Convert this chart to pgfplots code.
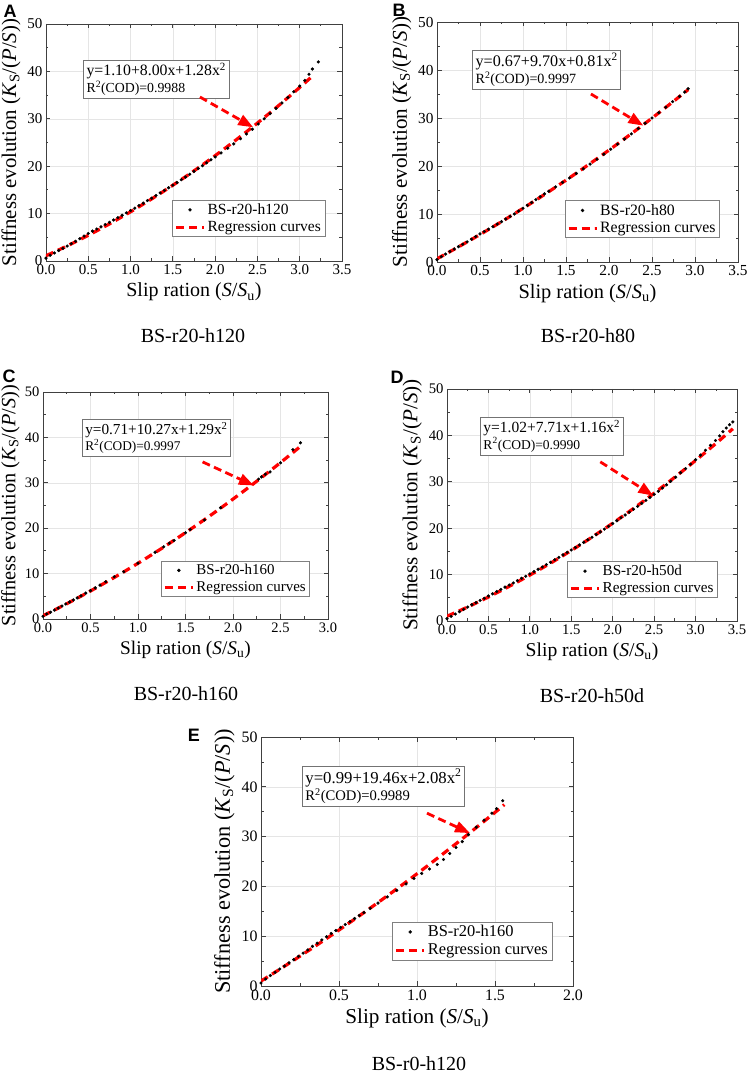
\documentclass[border=0pt]{standalone}
\usepackage{fontspec}
\setmainfont{Liberation Serif}
\newfontfamily\lettersf{Liberation Sans}
\usepackage{pgfplots}
\pgfplotsset{compat=1.18}
\usetikzlibrary{arrows.meta}

\def\psc{1.0}
\def\ylfs{21}
\newcommand{\fs}[1]{\fontsize{\fpeval{#1*\psc}}{\fpeval{1.15*#1*\psc}}\selectfont}
\pgfplotsset{
  panel/.style={
    scale only axis,
    xmin=0, ymin=0, ymax=50,
    ytick={0,10,20,30,40,50},
    minor x tick num=1, minor y tick num=1,
    tick align=inside,
    major tick length=4.5pt, minor tick length=2.5pt,
    axis line style={black!75, line width=0.9pt},
    every tick/.style={black!75, line width=0.8pt},
    grid=major, major grid style={black!10, line width=0.5pt},
    /pgf/number format/assume math mode=true,
    xticklabel style={/pgf/number format/.cd, fixed, fixed zerofill, precision=1},
    yticklabel style={/pgf/number format/.cd, fixed, precision=0},
    tick label style={font=\fs{15}},
    xlabel style={font=\fs{20}, yshift=-1.5pt},
    ylabel style={font=\fontsize{\ylfs}{\ylfs}\selectfont},
    xlabel={Slip ration (\textit{S}/\textit{S}\textsubscript{u})},
    ylabel={Stiffness evolution (\textit{K}\textsubscript{S}/(\textit{P}/\textit{S}))},
    legend cell align=left,
    legend style={draw=black!50, line width=0.6pt, fill=white,
      font=\fs{15.5}, inner xsep=2pt, inner ysep=1.5pt, row sep=1.5pt},
    legend image code/.code={\draw[mark repeat=2,mark phase=2,##1] plot coordinates {(0pt,0pt) (14pt,0pt) (28pt,0pt)};},
  },
  dots/.style={only marks, mark=*, mark size=1.4pt, black},
  reg/.style={red, line width=3.2pt, dash pattern=on 8pt off 5pt, no marks, smooth},
}
\tikzset{
  eqbox/.style={draw=black!55, line width=0.7pt, fill=white, inner xsep=3pt, inner ysep=3pt, align=left, anchor=north west},
  arr/.style={red, line width=2.8pt, dash pattern=on 8pt off 4.5pt, -{Triangle[length=15pt,width=11pt]}},
  captxt/.style={font=\fontsize{20}{22}\selectfont, anchor=base},
  lett/.style={font=\lettersf\bfseries\fontsize{18}{18}\selectfont},
}
\newcommand{\eqtext}[2]{{\fs{15.8}#1}\\[0.5pt]{\fs{13.8}#2}}

\begin{document}
\begin{tikzpicture}
\path[use as bounding box] (0pt,0pt) rectangle (747pt,1074pt);

% ---------- A ----------
\gdef\psc{1.0}\gdef\ylfs{20.8}
\begin{axis}[panel, at={(46pt,813pt)}, anchor=south west, width=296pt, height=237pt,
  xmax=3.5, xtick={0,0.5,1,1.5,2,2.5,3,3.5},
  legend style={at={(0.943,0.101)}, anchor=south east}]
\addplot[dots] coordinates {
(0.00,0.60) (0.05,1.2) (0.10,1.7) (0.15,2.2) (0.20,2.65) (0.25,3.15) (0.30,3.65) (0.35,4.15)
(0.40,4.7) (0.45,5.25) (0.50,5.8) (0.55,6.3) (0.60,6.75) (0.65,7.2) (0.70,7.7) (0.75,8.15)
(0.80,8.65) (0.85,9.15) (0.90,9.65) (0.95,10.15) (1.00,10.65) (1.05,11.15) (1.10,11.7)
(1.15,12.2) (1.20,12.75) (1.25,13.25) (1.30,13.8) (1.35,14.35) (1.40,14.9) (1.45,15.45)
(1.50,16.0) (1.55,16.55) (1.60,17.15) (1.65,17.7) (1.70,18.3) (1.75,18.9) (1.80,19.5)
(1.85,20.1) (1.90,20.7) (1.95,21.35) (2.00,21.95) (2.07,22.8) (2.15,23.8) (2.22,24.7)
(2.30,25.8) (2.37,26.8) (2.44,27.8) (2.51,28.9) (2.58,30.0) (2.65,31.1) (2.72,32.2)
(2.79,33.35) (2.86,34.5) (2.93,35.7) (3.00,36.9) (3.06,38.1) (3.11,39.4) (3.15,40.5) (3.22,42.0)};
\addlegendentry{BS-r20-h120}
\addplot[reg] coordinates {
(0,1.10) (0.25,3.18) (0.5,5.42) (0.75,7.82) (1.0,10.38) (1.25,13.10) (1.5,15.98) (1.75,19.02)
(2.0,22.22) (2.25,25.58) (2.5,29.10) (2.75,32.78) (3.0,36.62) (3.15,39.0)};
\addlegendentry{Regression curves}
\node[eqbox] at (axis cs:0.44,42.4) {\eqtext{y=1.10+8.00x+1.28x\textsuperscript{2}}{R\textsuperscript{2}(COD)=0.9988}};
\draw[arr] (axis cs:1.82,34.6) -- (axis cs:2.45,28.2);
\end{axis}

% ---------- B ----------
\gdef\psc{1.02}\gdef\ylfs{21.1}
\begin{axis}[panel, at={(437pt,812pt)}, anchor=south west, width=301pt, height=240pt,
  xmax=3.5, xtick={0,0.5,1,1.5,2,2.5,3,3.5},
  legend style={at={(0.94,0.10)}, anchor=south east}]
\addplot[dots] coordinates {
(0.00,0.5) (0.05,1.1) (0.10,1.65) (0.15,2.2) (0.20,2.7) (0.25,3.2) (0.30,3.7) (0.35,4.2)
(0.40,4.75) (0.45,5.3) (0.50,5.85) (0.55,6.35) (0.60,6.85) (0.65,7.35) (0.70,7.9) (0.75,8.4)
(0.80,8.95) (0.85,9.5) (0.90,10.0) (0.95,10.6) (1.00,11.2) (1.05,11.8) (1.10,12.4) (1.15,13.0)
(1.20,13.6) (1.25,14.2) (1.30,14.75) (1.38,15.65) (1.46,16.6) (1.54,17.5) (1.62,18.45)
(1.70,19.4) (1.78,20.4) (1.86,21.4) (1.94,22.45) (2.02,23.5) (2.10,24.55) (2.18,25.6)
(2.26,26.7) (2.34,27.8) (2.42,28.9) (2.50,30.0) (2.58,31.1) (2.66,32.25) (2.74,33.4)
(2.82,34.5) (2.88,35.4) (2.92,36.1)};
\addlegendentry{BS-r20-h80}
\addplot[reg] coordinates {
(0,0.67) (0.25,3.15) (0.5,5.72) (0.75,8.40) (1.0,11.18) (1.25,14.06) (1.5,17.04) (1.75,20.13)
(2.0,23.31) (2.25,26.60) (2.5,29.98) (2.75,33.47) (2.92,35.90)};
\addlegendentry{Regression curves}
\node[eqbox] at (axis cs:0.41,44.2) {\eqtext{y=0.67+9.70x+0.81x\textsuperscript{2}}{R\textsuperscript{2}(COD)=0.9997}};
\draw[arr] (axis cs:1.79,35.0) -- (axis cs:2.40,28.4);
\end{axis}

% ---------- C ----------
\gdef\psc{0.965}\gdef\ylfs{20.3}
\begin{axis}[panel, at={(43pt,455pt)}, anchor=south west, width=285pt, height=227pt,
  xmax=3, xtick={0,0.5,1,1.5,2,2.5,3},
  ylabel style={xshift=0pt, yshift=-1.5pt},
  legend style={at={(0.937,0.097)}, anchor=south east}]
\addplot[dots] coordinates {
(0.00,0.6) (0.04,1.1) (0.08,1.5) (0.12,1.95) (0.16,2.4) (0.20,2.85) (0.24,3.3) (0.28,3.75)
(0.32,4.2) (0.36,4.65) (0.40,5.1) (0.45,5.7) (0.50,6.25) (0.55,6.85) (0.60,7.45) (0.66,8.2)
(0.75,9.3) (0.85,10.4) (1.00,12.3) (1.18,14.7) (1.27,15.9) (1.33,16.7) (1.38,17.3) (1.50,19.0)
(1.55,19.7) (1.70,21.8) (1.87,24.5) (2.27,30.8) (2.30,31.3) (2.34,31.9) (2.39,32.4)
(2.50,34.4) (2.63,37.3) (2.71,38.8)};
\addlegendentry{BS-r20-h160}
\addplot[reg] coordinates {
(0,0.71) (0.25,3.36) (0.5,6.17) (0.75,9.14) (1.0,12.27) (1.25,15.56) (1.5,19.02) (1.75,22.63)
(2.0,26.41) (2.25,30.35) (2.5,34.45) (2.72,38.19)};
\addlegendentry{Regression curves}
\node[eqbox] at (axis cs:0.41,44.05) {\eqtext{y=0.71+10.27x+1.29x\textsuperscript{2}}{R\textsuperscript{2}(COD)=0.9997}};
\draw[arr] (axis cs:1.68,34.6) -- (axis cs:2.22,29.4);
\end{axis}

% ---------- D ----------
\gdef\psc{0.98}\gdef\ylfs{21.2}
\begin{axis}[panel, at={(447pt,453pt)}, anchor=south west, width=290pt, height=232pt,
  xmax=3.5, xtick={0,0.5,1,1.5,2,2.5,3,3.5},
  legend style={at={(0.934,0.099)}, anchor=south east}]
\addplot[dots] coordinates {
(0.00,0.5) (0.05,1.0) (0.10,1.5) (0.15,2.0) (0.20,2.5) (0.25,3.0) (0.30,3.5) (0.35,3.95)
(0.40,4.45) (0.45,4.9) (0.50,5.4) (0.55,5.85) (0.60,6.35) (0.65,6.8) (0.70,7.3) (0.75,7.75)
(0.80,8.2) (0.85,8.7) (0.90,9.2) (0.95,9.65) (1.00,10.15) (1.05,10.65) (1.10,11.15)
(1.15,11.65) (1.20,12.15) (1.25,12.65) (1.30,13.2) (1.35,13.7) (1.40,14.25) (1.45,14.8)
(1.50,15.3) (1.55,15.85) (1.60,16.4) (1.65,16.95) (1.70,17.5) (1.75,18.05) (1.80,18.65)
(1.85,19.2) (1.90,19.8) (1.95,20.4) (2.00,21.0) (2.05,21.6) (2.10,22.25) (2.15,22.85)
(2.20,23.45) (2.25,24.1) (2.30,24.7) (2.35,25.35) (2.40,26.0) (2.45,26.65) (2.50,27.3)
(2.55,27.95) (2.60,28.65) (2.65,29.35) (2.70,30.1) (2.76,31.0) (2.82,31.95) (2.88,32.85)
(2.94,33.8) (3.00,34.75) (3.06,35.75) (3.12,36.8) (3.18,37.85) (3.24,38.9) (3.29,39.9)
(3.33,40.8) (3.37,41.6) (3.41,42.3) (3.45,42.9)};
\addlegendentry{BS-r20-h50d}
\addplot[reg] coordinates {
(0,1.02) (0.25,3.02) (0.5,5.17) (0.75,7.46) (1.0,9.89) (1.25,12.47) (1.5,15.20) (1.75,18.07)
(2.0,21.08) (2.25,24.24) (2.5,27.55) (2.75,31.00) (3.0,34.59) (3.25,38.33) (3.45,41.43)};
\addlegendentry{Regression curves}
\node[eqbox] at (axis cs:0.40,43.97) {\eqtext{y=1.02+7.71x+1.16x\textsuperscript{2}}{R\textsuperscript{2}(COD)=0.9990}};
\draw[arr] (axis cs:1.85,34.3) -- (axis cs:2.49,27.0);
\end{axis}

% ---------- E ----------
\gdef\psc{1.06}\gdef\ylfs{22.3}
\begin{axis}[panel, at={(261pt,88pt)}, anchor=south west, width=312pt, height=249pt,
  xmax=2, xtick={0,0.5,1,1.5,2},
  legend style={at={(0.933,0.104)}, anchor=south east}]
\addplot[dots] coordinates {
(0.00,0.6) (0.03,1.4) (0.06,2.1) (0.09,2.75) (0.12,3.4) (0.15,4.0) (0.18,4.65) (0.21,5.3)
(0.24,5.95) (0.27,6.6) (0.30,7.25) (0.33,7.95) (0.36,8.6) (0.39,9.25) (0.42,9.9) (0.45,10.55)
(0.48,11.15) (0.51,11.75) (0.54,12.35) (0.57,12.95) (0.60,13.55) (0.63,14.15) (0.66,14.75)
(0.70,15.6) (0.75,16.65) (0.81,17.9) (0.87,19.2) (0.93,20.5) (0.98,21.6) (1.03,22.6)
(1.08,23.5) (1.13,24.4) (1.17,25.4) (1.21,26.6) (1.25,27.8) (1.29,29.0) (1.33,30.4)
(1.38,31.9) (1.43,33.3) (1.48,34.7) (1.51,35.6) (1.55,37.2)};
\addlegendentry{BS-r20-h160}
\addplot[reg] coordinates {
(0,0.99) (0.125,3.46) (0.25,5.99) (0.375,8.58) (0.5,11.24) (0.625,13.97) (0.75,16.76)
(0.875,19.61) (1.0,22.53) (1.125,25.52) (1.25,28.57) (1.375,31.68) (1.5,34.86) (1.56,36.41)};
\addlegendentry{Regression curves}
\node[eqbox] at (axis cs:0.263,44.2) {\eqtext{y=0.99+19.46x+2.08x\textsuperscript{2}}{R\textsuperscript{2}(COD)=0.9989}};
\draw[arr] (axis cs:1.064,34.7) -- (axis cs:1.34,30.7);
\end{axis}

% captions and panel letters
\node[captxt] at (193pt,731pt) {BS-r20-h120};
\node[captxt] at (588pt,731pt) {BS-r20-h80};
\node[captxt] at (186pt,373pt) {BS-r20-h160};
\node[captxt] at (592pt,371pt) {BS-r20-h50d};
\node[captxt] at (419pt,4pt) {BS-r0-h120};
\node[lett] at (10pt,1063pt) {A};
\node[lett] at (399pt,1064pt) {B};
\node[lett] at (9pt,698pt) {C};
\node[lett] at (397pt,697pt) {D};
\node[lett] at (194pt,339pt) {E};
\end{tikzpicture}
\end{document}
